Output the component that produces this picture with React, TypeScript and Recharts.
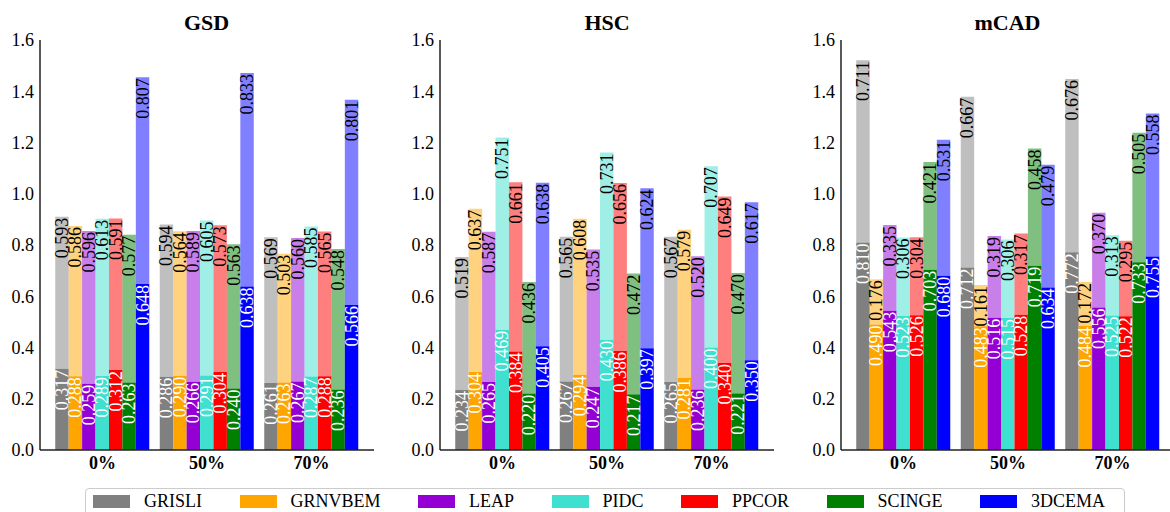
import { BarChart, Bar, XAxis, YAxis, LabelList } from 'recharts';

const groups = ['0%', '50%', '70%'];
const methods = ['GRISLI', 'GRNVBEM', 'LEAP', 'PIDC', 'PPCOR', 'SCINGE', '3DCEMA'];
const colors = ['#808080', '#FFA500', '#9400D3', '#40E0D0', '#FF0000', '#008000', '#0000FF'];
const yTicks = [0, 0.2, 0.4, 0.6, 0.8, 1.0, 1.2, 1.4, 1.6];

// rows = noise level (0%, 50%, 70%), columns = methods
const gsdLower = [
  [0.317, 0.288, 0.259, 0.289, 0.312, 0.263, 0.648],
  [0.286, 0.29, 0.266, 0.291, 0.304, 0.24, 0.638],
  [0.261, 0.263, 0.267, 0.287, 0.288, 0.236, 0.566],
];
const gsdUpper = [
  [0.593, 0.586, 0.596, 0.613, 0.591, 0.577, 0.807],
  [0.594, 0.564, 0.589, 0.605, 0.573, 0.563, 0.833],
  [0.569, 0.503, 0.56, 0.585, 0.565, 0.548, 0.801],
];

const hscLower = [
  [0.234, 0.304, 0.265, 0.469, 0.384, 0.22, 0.405],
  [0.267, 0.294, 0.247, 0.43, 0.386, 0.217, 0.397],
  [0.265, 0.281, 0.236, 0.4, 0.34, 0.221, 0.35],
];
const hscUpper = [
  [0.519, 0.637, 0.587, 0.751, 0.661, 0.436, 0.638],
  [0.565, 0.608, 0.535, 0.731, 0.656, 0.472, 0.624],
  [0.567, 0.579, 0.52, 0.707, 0.649, 0.47, 0.617],
];

const mcadLower = [
  [0.81, 0.49, 0.543, 0.523, 0.526, 0.703, 0.68],
  [0.712, 0.483, 0.516, 0.515, 0.528, 0.719, 0.634],
  [0.772, 0.484, 0.556, 0.525, 0.522, 0.733, 0.755],
];
const mcadUpper = [
  [0.711, 0.176, 0.335, 0.306, 0.304, 0.421, 0.531],
  [0.667, 0.161, 0.319, 0.306, 0.317, 0.458, 0.479],
  [0.676, 0.172, 0.37, 0.313, 0.295, 0.505, 0.558],
];

const panels = [
  { title: 'GSD', lower: gsdLower, upper: gsdUpper },
  { title: 'HSC', lower: hscLower, upper: hscUpper },
  { title: 'mCAD', lower: mcadLower, upper: mcadUpper },
];

const FONT = '"Liberation Serif", "Times New Roman", serif';
const PLOT_W = 334;
const AXIS_W = 40;

function buildRows(lower: number[][], upper: number[][]) {
  return groups.map((g, gi) => {
    const row: Record<string, string | number> = { group: g };
    methods.forEach((m, mi) => {
      row[m + '_lo'] = lower[gi][mi];
      row[m + '_hi'] = upper[gi][mi];
    });
    return row;
  });
}

const makeLabel = (fill: string) => (props: any) => {
  const { x, y, width, value } = props;
  const cx = Number(x) + Number(width) / 2;
  const ty = Number(y) + 1;
  return (
    <text
      x={cx}
      y={ty}
      transform={`rotate(-90 ${cx} ${ty})`}
      textAnchor="end"
      dominantBaseline="central"
      fill={fill}
      fontSize={18}
      fontFamily={FONT}
    >
      {Number(value).toFixed(3)}
    </text>
  );
};

function Panel({ title, lower, upper }: { title: string; lower: number[][]; upper: number[][] }) {
  const data = buildRows(lower, upper);
  return (
    <div style={{ position: 'relative', width: AXIS_W + PLOT_W + 10, height: 480 }}>
      <div
        style={{
          position: 'absolute',
          left: AXIS_W + PLOT_W / 2 - 100,
          width: 200,
          top: 11.6,
          textAlign: 'center',
          fontSize: 22,
          lineHeight: '22px',
          fontWeight: 'bold',
          fontFamily: FONT,
        }}
      >
        {title}
      </div>
      <BarChart
        width={AXIS_W + PLOT_W + 10}
        height={480}
        data={data}
        margin={{ top: 40, right: 10, bottom: 0, left: 0 }}
        barSize={13.43}
        barGap={0}
      >
        <XAxis
          dataKey="group"
          height={30}
          padding={{ left: 10.25, right: 10.25 }}
          tickLine={false}
          tickSize={6}
          tickMargin={0}
          axisLine={{ stroke: '#222', strokeWidth: 1.5 }}
          tick={{ fill: '#000', fontSize: 18, fontWeight: 'bold', fontFamily: FONT }}
        />
        <XAxis
          xAxisId="top"
          dataKey="group"
          orientation="top"
          height={0}
          tick={false}
          tickLine={false}
          axisLine={{ stroke: '#000', strokeWidth: 1 }}
        />
        <YAxis
          type="number"
          domain={[0, 1.6]}
          ticks={yTicks}
          width={AXIS_W}
          tickLine={false}
          tickSize={6}
          tickMargin={0}
          tickFormatter={(v: number) => v.toFixed(1)}
          axisLine={{ stroke: '#222', strokeWidth: 1.5 }}
          tick={{ fill: '#000', fontSize: 18, fontFamily: FONT }}
        />
        <YAxis
          yAxisId="right"
          orientation="right"
          type="number"
          domain={[0, 1.6]}
          width={0}
          tick={false}
          tickLine={false}
          axisLine={{ stroke: '#000', strokeWidth: 1 }}
        />
        {methods.map((m, mi) => [
          <Bar key={m + '_lo'} dataKey={m + '_lo'} stackId={m} fill={colors[mi]} isAnimationActive={false}>
            <LabelList dataKey={m + '_lo'} content={makeLabel('#fff')} />
          </Bar>,
          <Bar
            key={m + '_hi'}
            dataKey={m + '_hi'}
            stackId={m}
            fill={colors[mi]}
            fillOpacity={0.5}
            isAnimationActive={false}
          >
            <LabelList dataKey={m + '_hi'} content={makeLabel('#000')} />
          </Bar>,
        ])}
      </BarChart>
    </div>
  );
}

export default function App() {
  return (
    <div
      style={{
        position: 'absolute',
        left: 0,
        top: 0,
        width: 1170,
        height: 512,
        overflow: 'hidden',
        background: '#fff',
        fontFamily: FONT,
      }}
    >
      {panels.map((p, i) => (
        <div key={p.title} style={{ position: 'absolute', left: 400.5 * i - 0.5, top: 0 }}>
          <Panel title={p.title} lower={p.lower} upper={p.upper} />
        </div>
      ))}
      <div
        style={{
          position: 'absolute',
          left: 85,
          top: 488,
          width: 1040,
          height: 40,
          boxSizing: 'border-box',
          border: '1px solid #ccc',
          borderRadius: 4,
          padding: '6px 0 0 7px',
          display: 'flex',
          alignItems: 'flex-start',
        }}
      >
        {methods.map((m, mi) => (
          <div key={m} style={{ display: 'flex', alignItems: 'center', height: 13, marginRight: 37.5 }}>
            <div style={{ width: 37, height: 13, background: colors[mi], marginRight: 14 }} />
            <span style={{ fontSize: 18, lineHeight: '13px', whiteSpace: 'nowrap' }}>{m}</span>
          </div>
        ))}
      </div>
    </div>
  );
}
